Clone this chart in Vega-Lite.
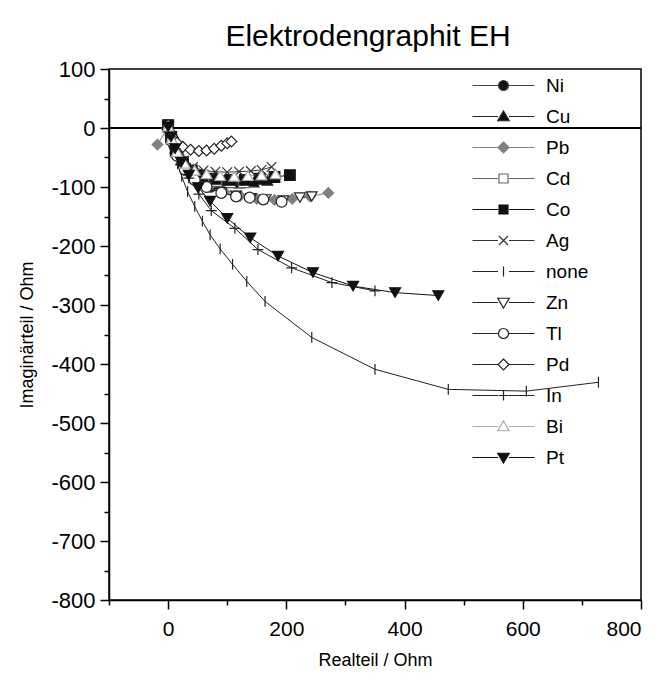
{
  "$schema": "https://vega.github.io/schema/vega-lite/v6.json",
  "width": 532,
  "height": 531,
  "autosize": "none",
  "padding": {"left": 109, "top": 69, "right": 21, "bottom": 80},
  "background": "white",
  "title": {"text": "Elektrodengraphit EH", "fontSize": 30, "font": "Liberation Sans", "fontWeight": "normal", "color": "black", "anchor": "middle", "offset": 6, "dx": -7},
  "data": {"values": [
    {"s":"Ni","i":0,"x":0,"y":3},{"s":"Ni","i":1,"x":4,"y":-12},{"s":"Ni","i":2,"x":10,"y":-30},{"s":"Ni","i":3,"x":18,"y":-48},{"s":"Ni","i":4,"x":28,"y":-65},{"s":"Ni","i":5,"x":40,"y":-80},{"s":"Ni","i":6,"x":55,"y":-92},{"s":"Ni","i":7,"x":72,"y":-100},{"s":"Ni","i":8,"x":90,"y":-104},
    {"s":"Cu","i":0,"x":0,"y":4},{"s":"Cu","i":1,"x":5,"y":-15},{"s":"Cu","i":2,"x":12,"y":-35},{"s":"Cu","i":3,"x":22,"y":-55},{"s":"Cu","i":4,"x":35,"y":-72},{"s":"Cu","i":5,"x":52,"y":-84},{"s":"Cu","i":6,"x":72,"y":-90},{"s":"Cu","i":7,"x":95,"y":-93},{"s":"Cu","i":8,"x":120,"y":-94},{"s":"Cu","i":9,"x":145,"y":-92},{"s":"Cu","i":10,"x":168,"y":-89},
    {"s":"Pb","i":0,"x":-18,"y":-28},{"s":"Pb","i":1,"x":-2,"y":-2},{"s":"Pb","i":2,"x":6,"y":-20},{"s":"Pb","i":3,"x":16,"y":-45},{"s":"Pb","i":4,"x":30,"y":-68},{"s":"Pb","i":5,"x":48,"y":-86},{"s":"Pb","i":6,"x":70,"y":-99},{"s":"Pb","i":7,"x":95,"y":-108},{"s":"Pb","i":8,"x":122,"y":-115},{"s":"Pb","i":9,"x":150,"y":-120},{"s":"Pb","i":10,"x":180,"y":-122},{"s":"Pb","i":11,"x":210,"y":-120},{"s":"Pb","i":12,"x":240,"y":-116},{"s":"Pb","i":13,"x":271,"y":-110},
    {"s":"Cd","i":0,"x":0,"y":2},{"s":"Cd","i":1,"x":5,"y":-18},{"s":"Cd","i":2,"x":13,"y":-40},{"s":"Cd","i":3,"x":25,"y":-60},{"s":"Cd","i":4,"x":40,"y":-75},{"s":"Cd","i":5,"x":60,"y":-85},{"s":"Cd","i":6,"x":82,"y":-90},{"s":"Cd","i":7,"x":105,"y":-92},{"s":"Cd","i":8,"x":128,"y":-92},
    {"s":"Co","i":0,"x":0,"y":5},{"s":"Co","i":1,"x":5,"y":-15},{"s":"Co","i":2,"x":13,"y":-38},{"s":"Co","i":3,"x":25,"y":-58},{"s":"Co","i":4,"x":40,"y":-72},{"s":"Co","i":5,"x":58,"y":-81},{"s":"Co","i":6,"x":80,"y":-86},{"s":"Co","i":7,"x":105,"y":-88},{"s":"Co","i":8,"x":130,"y":-88},{"s":"Co","i":9,"x":155,"y":-86},{"s":"Co","i":10,"x":180,"y":-83},{"s":"Co","i":11,"x":206,"y":-80},
    {"s":"Ag","i":0,"x":0,"y":2},{"s":"Ag","i":1,"x":6,"y":-18},{"s":"Ag","i":2,"x":15,"y":-38},{"s":"Ag","i":3,"x":27,"y":-55},{"s":"Ag","i":4,"x":42,"y":-66},{"s":"Ag","i":5,"x":60,"y":-72},{"s":"Ag","i":6,"x":80,"y":-74},{"s":"Ag","i":7,"x":100,"y":-75},{"s":"Ag","i":8,"x":120,"y":-74},{"s":"Ag","i":9,"x":140,"y":-73},{"s":"Ag","i":10,"x":158,"y":-71},{"s":"Ag","i":11,"x":175,"y":-66},
    {"s":"none","i":0,"x":0,"y":0},{"s":"none","i":1,"x":4,"y":-18},{"s":"none","i":2,"x":10,"y":-40},{"s":"none","i":3,"x":16,"y":-60},{"s":"none","i":4,"x":23,"y":-82},{"s":"none","i":5,"x":33,"y":-108},{"s":"none","i":6,"x":45,"y":-133},{"s":"none","i":7,"x":58,"y":-158},{"s":"none","i":8,"x":71,"y":-181},{"s":"none","i":9,"x":88,"y":-205},{"s":"none","i":10,"x":109,"y":-231},{"s":"none","i":11,"x":133,"y":-260},{"s":"none","i":12,"x":164,"y":-294},{"s":"none","i":13,"x":243,"y":-355},{"s":"none","i":14,"x":350,"y":-409},{"s":"none","i":15,"x":474,"y":-443},{"s":"none","i":16,"x":606,"y":-446},{"s":"none","i":17,"x":728,"y":-431},
    {"s":"Zn","i":0,"x":0,"y":3},{"s":"Zn","i":1,"x":6,"y":-20},{"s":"Zn","i":2,"x":15,"y":-45},{"s":"Zn","i":3,"x":28,"y":-68},{"s":"Zn","i":4,"x":45,"y":-86},{"s":"Zn","i":5,"x":65,"y":-99},{"s":"Zn","i":6,"x":90,"y":-109},{"s":"Zn","i":7,"x":115,"y":-115},{"s":"Zn","i":8,"x":140,"y":-119},{"s":"Zn","i":9,"x":165,"y":-121},{"s":"Zn","i":10,"x":195,"y":-123},{"s":"Zn","i":11,"x":223,"y":-118},{"s":"Zn","i":12,"x":243,"y":-116},
    {"s":"Tl","i":0,"x":0,"y":2},{"s":"Tl","i":1,"x":6,"y":-22},{"s":"Tl","i":2,"x":15,"y":-47},{"s":"Tl","i":3,"x":28,"y":-70},{"s":"Tl","i":4,"x":45,"y":-88},{"s":"Tl","i":5,"x":65,"y":-100},{"s":"Tl","i":6,"x":90,"y":-110},{"s":"Tl","i":7,"x":115,"y":-116},{"s":"Tl","i":8,"x":138,"y":-118},{"s":"Tl","i":9,"x":161,"y":-121},{"s":"Tl","i":10,"x":192,"y":-125},
    {"s":"Pd","i":0,"x":0,"y":5},{"s":"Pd","i":1,"x":3,"y":-6},{"s":"Pd","i":2,"x":8,"y":-16},{"s":"Pd","i":3,"x":15,"y":-25},{"s":"Pd","i":4,"x":25,"y":-32},{"s":"Pd","i":5,"x":38,"y":-37},{"s":"Pd","i":6,"x":52,"y":-39},{"s":"Pd","i":7,"x":65,"y":-38},{"s":"Pd","i":8,"x":78,"y":-35},{"s":"Pd","i":9,"x":90,"y":-30},{"s":"Pd","i":10,"x":100,"y":-26},{"s":"Pd","i":11,"x":107,"y":-23},
    {"s":"In","i":0,"x":0,"y":0},{"s":"In","i":1,"x":5,"y":-15},{"s":"In","i":2,"x":12,"y":-35},{"s":"In","i":3,"x":22,"y":-60},{"s":"In","i":4,"x":35,"y":-85},{"s":"In","i":5,"x":52,"y":-112},{"s":"In","i":6,"x":73,"y":-140},{"s":"In","i":7,"x":113,"y":-170},{"s":"In","i":8,"x":152,"y":-206},{"s":"In","i":9,"x":209,"y":-237},{"s":"In","i":10,"x":277,"y":-262},{"s":"In","i":11,"x":350,"y":-276},
    {"s":"Bi","i":0,"x":0,"y":3},{"s":"Bi","i":1,"x":6,"y":-18},{"s":"Bi","i":2,"x":15,"y":-40},{"s":"Bi","i":3,"x":28,"y":-60},{"s":"Bi","i":4,"x":45,"y":-72},{"s":"Bi","i":5,"x":65,"y":-78},{"s":"Bi","i":6,"x":88,"y":-81},{"s":"Bi","i":7,"x":112,"y":-82},{"s":"Bi","i":8,"x":135,"y":-81},{"s":"Bi","i":9,"x":158,"y":-80},{"s":"Bi","i":10,"x":182,"y":-78},
    {"s":"Pt","i":0,"x":0,"y":2},{"s":"Pt","i":1,"x":5,"y":-15},{"s":"Pt","i":2,"x":12,"y":-35},{"s":"Pt","i":3,"x":22,"y":-58},{"s":"Pt","i":4,"x":35,"y":-80},{"s":"Pt","i":5,"x":51,"y":-101},{"s":"Pt","i":6,"x":71,"y":-124},{"s":"Pt","i":7,"x":100,"y":-153},{"s":"Pt","i":8,"x":139,"y":-186},{"s":"Pt","i":9,"x":186,"y":-217},{"s":"Pt","i":10,"x":245,"y":-245},{"s":"Pt","i":11,"x":313,"y":-268},{"s":"Pt","i":12,"x":384,"y":-279},{"s":"Pt","i":13,"x":457,"y":-284}
  ]},
  "encoding": {
    "x": {"field": "x", "type": "quantitative", "scale": {"domain": [-100, 800], "nice": false, "zero": false},
      "axis": {"title": "Realteil / Ohm", "values": [-100,0,100,200,300,400,500,600,700,800],
        "labelExpr": "datum.value % 200 === 0 ? '' + datum.value : ''",
        "tickSize": {"condition": {"test": "datum.value % 200 !== 0", "value": 5}, "value": 9},
        "labelPadding": 9, "titlePadding": 12}},
    "y": {"field": "y", "type": "quantitative", "scale": {"domain": [-800, 100], "nice": false, "zero": false},
      "axis": {"title": "Imaginärteil / Ohm", "values": [-800,-750,-700,-650,-600,-550,-500,-450,-400,-350,-300,-250,-200,-150,-100,-50,0,50,100],
        "labelExpr": "datum.value % 100 === 0 ? (datum.value < 0 ? '-' : '') + abs(datum.value) : ''",
        "tickSize": {"condition": {"test": "datum.value % 100 !== 0", "value": 5}, "value": 9},
        "labelPadding": 5, "labelFontSize": 22, "titlePadding": 14}}
  },
  "layer": [
    {"mark": {"type": "rule", "color": "black", "strokeWidth": 2}, "encoding": {"y": {"datum": 0}, "x": null}},
    {"mark": {"type": "line", "strokeWidth": 1},
      "encoding": {
        "order": {"field": "i", "type": "quantitative"},
        "stroke": {"field": "s", "type": "nominal",
          "scale": {"domain": ["Ni","Cu","Pb","Cd","Co","Ag","none","Zn","Tl","Pd","In","Bi","Pt"],
                    "range": ["#444444","#222222","#808080","#666666","#111111","#333333","#222222","#222222","#222222","#222222","#222222","#aaaaaa","#111111"]},
          "legend": null}
      }},
    {"mark": {"type": "point", "filled": true, "opacity": 1, "strokeWidth": 1.2},
      "encoding": {
        "shape": {"field": "s", "type": "nominal",
          "scale": {"domain": ["Ni","Cu","Pb","Cd","Co","Ag","none","Zn","Tl","Pd","In","Bi","Pt"],
                    "range": ["circle","triangle-up","diamond","square","square","M-0.9,-0.9L0.9,0.9M-0.9,0.9L0.9,-0.9","M0,-1L0,1","triangle-down","circle","diamond","M-1,0L1,0M0,-1L0,1","triangle-up","triangle-down"]},
          "legend": null},
        "fill": {"field": "s", "type": "nominal",
          "scale": {"domain": ["Ni","Cu","Pb","Cd","Co","Ag","none","Zn","Tl","Pd","In","Bi","Pt"],
                    "range": ["#111111","#111111","#808080","#ffffff","#111111","#ffffff","#ffffff","#ffffff","#ffffff","#ffffff","#ffffff","#ffffff","#111111"]},
          "legend": null},
        "stroke": {"field": "s", "type": "nominal",
          "scale": {"domain": ["Ni","Cu","Pb","Cd","Co","Ag","none","Zn","Tl","Pd","In","Bi","Pt"],
                    "range": ["#444444","#222222","#808080","#666666","#111111","#333333","#222222","#222222","#222222","#222222","#222222","#aaaaaa","#111111"]},
          "legend": null},
        "size": {"field": "s", "type": "nominal",
          "scale": {"domain": ["Ni","Cu","Pb","Cd","Co","Ag","none","Zn","Tl","Pd","In","Bi","Pt"],
                    "range": [110,120,120,100,100,90,100,120,110,120,90,120,180]},
          "legend": null}
      }},
    {"transform": [{"filter": "false"}],
      "mark": {"type": "point", "filled": true, "opacity": 1, "strokeWidth": 1.2},
      "encoding": {
        "shape": {"field": "s", "type": "nominal",
          "scale": {"domain": ["Ni","Cu","Pb","Cd","Co","Ag","none","Zn","Tl","Pd","In","Bi","Pt"],
                    "range": ["M-6.2,0L-1.1,0M1.1,0L6.2,0M1,0A1,1,0,1,1,-1,0A1,1,0,1,1,1,0Z","M-6.2,0L-1.1,0M1.1,0L6.2,0M0,-1.1L1.15,0.85L-1.15,0.85Z","M-6.2,0L-1.1,0M1.1,0L6.2,0M0,-1.1L1.1,0L0,1.1L-1.1,0Z","M-6.2,0L-1.1,0M1.1,0L6.2,0M-0.9,-0.9L0.9,-0.9L0.9,0.9L-0.9,0.9Z","M-6.2,0L-1.1,0M1.1,0L6.2,0M-0.9,-0.9L0.9,-0.9L0.9,0.9L-0.9,0.9Z","M-6.2,0L-1.1,0M1.1,0L6.2,0M-0.9,-0.9L0.9,0.9M-0.9,0.9L0.9,-0.9","M-6.2,0L-1.1,0M1.1,0L6.2,0M0,-1L0,1","M-6.2,0L-1.1,0M1.1,0L6.2,0M0,1.1L1.15,-0.85L-1.15,-0.85Z","M-6.2,0L-1.1,0M1.1,0L6.2,0M1,0A1,1,0,1,1,-1,0A1,1,0,1,1,1,0Z","M-6.2,0L-1.1,0M1.1,0L6.2,0M0,-1.1L1.1,0L0,1.1L-1.1,0Z","M-6.2,0L-1.1,0M1.1,0L6.2,0M-1,0L1,0M0,-1L0,1","M-6.2,0L-1.1,0M1.1,0L6.2,0M0,-1.1L1.15,0.85L-1.15,0.85Z","M-6.2,0L-1.1,0M1.1,0L6.2,0M0,1.1L1.15,-0.85L-1.15,-0.85Z"]},
          "legend": {"orient": "none", "legendX": 385, "legendY": 7, "title": null, "padding": 0,
            "labelFont": "Liberation Sans", "labelFontSize": 19, "labelColor": "black", "labelOffset": 33,
            "rowPadding": 11, "symbolSize": 100, "symbolStrokeWidth": 1.2}},
        "fill": {"field": "s", "type": "nominal",
          "scale": {"domain": ["Ni","Cu","Pb","Cd","Co","Ag","none","Zn","Tl","Pd","In","Bi","Pt"],
                    "range": ["#111111","#111111","#808080","#ffffff","#111111","#ffffff","#ffffff","#ffffff","#ffffff","#ffffff","#ffffff","#ffffff","#111111"]},
          "legend": {"orient": "none", "legendX": 385, "legendY": 7, "title": null, "padding": 0,
            "labelFont": "Liberation Sans", "labelFontSize": 19, "labelColor": "black", "labelOffset": 33,
            "rowPadding": 11, "symbolSize": 100, "symbolStrokeWidth": 1.2}},
        "stroke": {"field": "s", "type": "nominal",
          "scale": {"domain": ["Ni","Cu","Pb","Cd","Co","Ag","none","Zn","Tl","Pd","In","Bi","Pt"],
                    "range": ["#444444","#222222","#808080","#666666","#111111","#333333","#222222","#222222","#222222","#222222","#222222","#aaaaaa","#111111"]},
          "legend": {"orient": "none", "legendX": 385, "legendY": 7, "title": null, "padding": 0,
            "labelFont": "Liberation Sans", "labelFontSize": 19, "labelColor": "black", "labelOffset": 33,
            "rowPadding": 11, "symbolSize": 100, "symbolStrokeWidth": 1.2}}
      }}
  ],
  "resolve": {"scale": {"shape": "independent", "fill": "independent", "stroke": "independent"},
              "legend": {"shape": "independent", "fill": "independent", "stroke": "independent"}},
  "config": {
    "view": {"stroke": "black", "strokeWidth": 1.5},
    "axis": {"grid": false, "domainColor": "black", "domainWidth": 1.5, "tickColor": "black", "tickWidth": 1.5,
      "labelFont": "Liberation Sans", "labelFontSize": 21, "labelColor": "black",
      "titleFont": "Liberation Sans", "titleFontSize": 18, "titleFontWeight": "normal", "titleColor": "black"},
    "legend": {"labelLimit": 200}
  }
}
